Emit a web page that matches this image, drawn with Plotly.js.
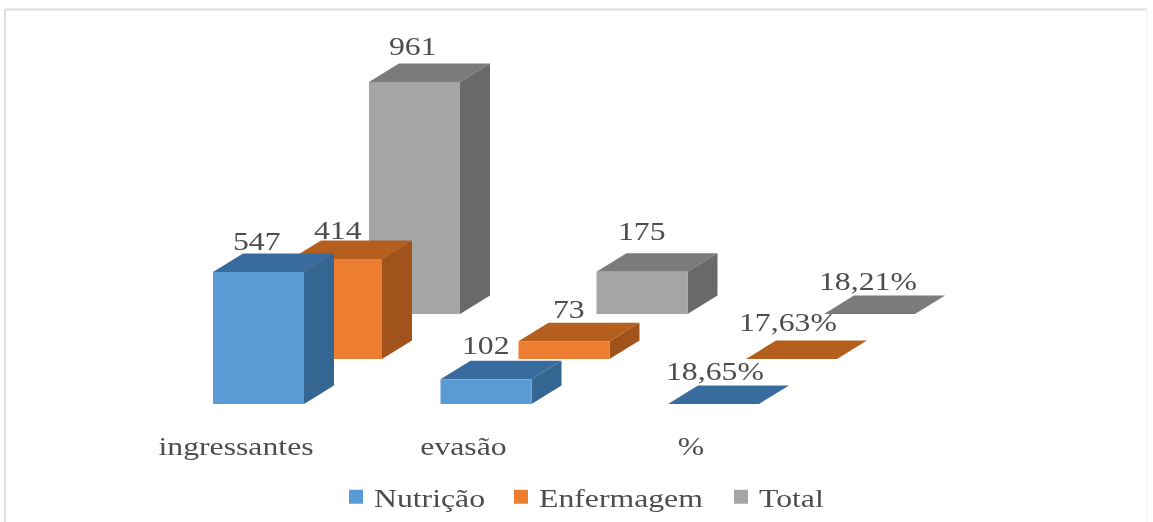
<!DOCTYPE html>
<html>
<head>
<meta charset="utf-8">
<script src="https://cdn.plot.ly/plotly-3.0.1.min.js"></script>
<style>
html,body{margin:0;padding:0;background:#fff;overflow:hidden}
#chart{width:1153px;height:522px;filter:blur(0.65px)}
.annotation-text{transform-box:fill-box;transform-origin:50% 50%;transform:scaleX(1.27)}
.legendtext{transform-box:fill-box;transform-origin:0 50%;transform:translateX(-2px) scaleX(1.27)}
.legend .scrollbox{clip-path:none !important}
.legend{overflow:visible}
</style>
</head>
<body>
<div id="chart"></div>
<script>
// ---- data ----
const categories = ["ingressantes", "evasão", "%"];
const seriesNames = ["Nutrição", "Enfermagem", "Total"];
const nutricao = [547, 102, 0.1865];
const enfermagem = [414, 73, 0.1763];
const total = [961, 175, 0.1821];
const nutricaoLabels = ["547", "102", "18,65%"];
const enfermagemLabels = ["414", "73", "17,63%"];
const totalLabels = ["961", "175", "18,21%"];

// ---- styling and oblique-projection geometry (pixels) ----
const W = 1153, H = 522, plotBottom = 420;
const baselinePx = 404, firstTickPx = 236, catStepPx = 227.5, pxPerUnit = 0.2415;
const barW = 91, depthX = 30, depthY = 18.5, seriesDX = 78, seriesDY = 45, barLeftFromTick = -23;
const textStretch = 1.27;
const legendItemOffsets = [0, 165, 385];
const faceColors = [
  {front:"#5B9BD5", top:"#386C9E", side:"#356591"},
  {front:"#ED7D31", top:"#B55F1F", side:"#A0541C"},
  {front:"#A5A5A5", top:"#7B7B7B", side:"#696969"}
];
const labelNudgeX = [[-1.5,0,1.5],[1.5,5,-3.5],[-1.5,0,-1.5]];
const labelNudgeY = [[30,34,32],[29,32,36],[35,40,32]];
const allValues = [nutricao, enfermagem, total];
const allLabels = [nutricaoLabels, enfermagemLabels, totalLabels];

const dx = p => p / catStepPx;            // horizontal pixels -> x units
const dy = p => p / pxPerUnit;            // vertical pixels -> y units
const xRange = [-firstTickPx / catStepPx, (W - firstTickPx) / catStepPx];
const yRange = [-(plotBottom - baselinePx) / pxPerUnit, baselinePx / pxPerUnit];

function face(points, color) {
  const xs = points.map(p => p[0]), ys = points.map(p => p[1]);
  xs.push(xs[0]); ys.push(ys[0]);
  return {type:"scatter", mode:"lines", x:xs, y:ys, fill:"toself", fillcolor:color,
          line:{width:0, color:color}, hoverinfo:"skip", showlegend:false};
}

const traces = [];
// legend entries
seriesNames.forEach((name, s) => traces.push({
  type:"scatter", mode:"markers", name:name, x:[-50], y:[-5000],
  marker:{symbol:"square", size:14, color:faceColors[s].front}, hoverinfo:"skip", cliponaxis:true
}));
const annotations = [];
// boxes, back row first
for (let s = 2; s >= 0; s--) {
  categories.forEach((cat, c) => {
    const v = allValues[s][c];
    const left = c + dx(barLeftFromTick + seriesDX * s);
    const right = left + dx(barW);
    const base = dy(seriesDY * s);
    const top = base + v;
    const ox = dx(depthX), oy = dy(depthY);
    traces.push(face([[right,base],[right+ox,base+oy],[right+ox,top+oy],[right,top]], faceColors[s].side));
    traces.push(face([[left,top],[right,top],[right+ox,top+oy],[left+ox,top+oy]], faceColors[s].top));
    traces.push(face([[left,base],[right,base],[right,top],[left,top]], faceColors[s].front));
    annotations.push({
      x:(left+right)/2 + dx(45.5 - barW/2 + labelNudgeX[s][c]), y:top, xref:"x", yref:"y",
      text:allLabels[s][c], showarrow:false, xanchor:"center", yanchor:"middle",
      yshift:labelNudgeY[s][c], font:{family:"Liberation Serif", size:25, color:"#4d4d4d"}
    });
  });
}

const paperX = p => p / W;
const paperY = p => 1 - p / plotBottom;
const frame = {type:"line", xref:"paper", yref:"paper", layer:"below", line:{color:"#dedede", width:2}};
const layout = {
  width:W, height:H, paper_bgcolor:"#fff", plot_bgcolor:"rgba(0,0,0,0)",
  margin:{l:0, r:0, t:0, b:H-plotBottom, pad:0, autoexpand:false},
  xaxis:{range:xRange, tickmode:"array", tickvals:categories.map((c,i)=>i), ticktext:categories,
         showgrid:false, zeroline:false, showline:false, ticks:"", ticklabelstandoff:9, automargin:false,
         tickfont:{family:"Liberation Serif", size:25, color:"#4d4d4d"}, fixedrange:true},
  yaxis:{range:yRange, visible:false, showgrid:false, zeroline:false, fixedrange:true},
  showlegend:true,
  legend:{orientation:"h", x:336/W, xanchor:"left", y:1-497/plotBottom, yanchor:"middle",
          font:{family:"Liberation Serif", size:25, color:"#4d4d4d"}, bgcolor:"rgba(0,0,0,0)"},
  annotations:annotations,
  shapes:[
    Object.assign({x0:paperX(5), x1:paperX(W-6), y0:paperY(9.5), y1:paperY(9.5)}, frame),
    Object.assign({x0:paperX(5), x1:paperX(5), y0:paperY(9.5), y1:paperY(H)}, frame),
    Object.assign({}, frame, {x0:paperX(W-6), x1:paperX(W-6), y0:paperY(9.5), y1:paperY(H), line:{color:"#f6f6f6", width:2}})
  ]
};
Plotly.newPlot("chart", traces, layout, {displayModeBar:false, staticPlot:true}).then(gd => {
  // the reference's type is stretched horizontally: widen tick labels about their centres
  gd.querySelectorAll(".xtick text").forEach(t => {
    const b = t.getBBox(), cx = b.x + b.width / 2;
    const base = t.getAttribute("transform") || "";
    t.setAttribute("transform", `${base} translate(${cx},0) scale(${textStretch},1) translate(${-cx},0)`);
  });
  // legend entries need room for the widened text
  const items = gd.querySelectorAll(".legend .traces");
  const m = /translate\(\s*([-\d.]+)[ ,]+([-\d.]+)/.exec(items[0].getAttribute("transform"));
  items.forEach((it, i) => it.setAttribute("transform", `translate(${+m[1] + legendItemOffsets[i]},${m[2]})`));
});
</script>
</body>
</html>
